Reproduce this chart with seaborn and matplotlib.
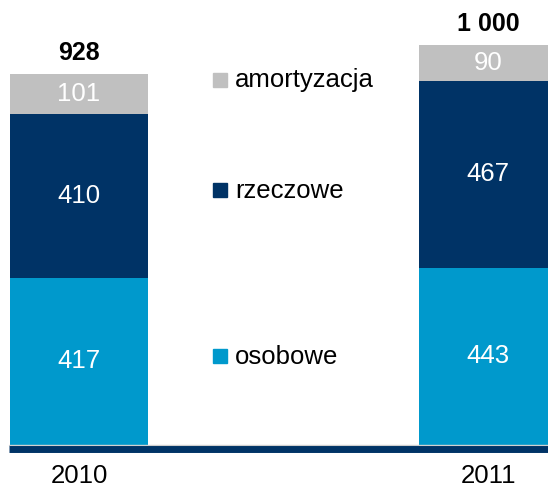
import pandas as pd
import seaborn as sns
import matplotlib.pyplot as plt
from matplotlib.lines import Line2D

# Data
years = ['2010', '2011']
osobowe = [417, 443]
rzeczowe = [410, 467]
amortyzacja = [101, 90]
totals_labels = ['928', '1 000']

series_names = ['amortyzacja', 'rzeczowe', 'osobowe']
colors = {'osobowe': '#0099CC', 'rzeczowe': '#003366', 'amortyzacja': '#C0C0C0'}

df = pd.DataFrame({'rok': years, 'osobowe': osobowe,
                   'rzeczowe': rzeczowe, 'amortyzacja': amortyzacja})
df['lvl1'] = df['osobowe']
df['lvl2'] = df['osobowe'] + df['rzeczowe']
df['lvl3'] = df['lvl2'] + df['amortyzacja']

sns.set_style('white')
plt.rcParams['font.family'] = ['Liberation Sans', 'DejaVu Sans']

W, H = 548, 491
fig = plt.figure(figsize=(W / 100, H / 100), dpi=100)
base_px = 444.5
ax = fig.add_axes([0, (H - base_px) / H, 1, base_px / H])

px_per_unit = 0.3995
bar_w = 138 / 409

# stacked bars drawn as overlapping cumulative totals
sns.barplot(data=df, x='rok', y='lvl3', color=colors['amortyzacja'], width=bar_w,
            saturation=1, linewidth=0, ax=ax)
sns.barplot(data=df, x='rok', y='lvl2', color=colors['rzeczowe'], width=bar_w,
            saturation=1, linewidth=0, ax=ax)
sns.barplot(data=df, x='rok', y='lvl1', color=colors['osobowe'], width=bar_w,
            saturation=1, linewidth=0, ax=ax)

ax.set_xlim(-79 / 409, (W - 79) / 409)
ax.set_ylim(0, base_px / px_per_unit)
ax.set_xlabel('')
ax.set_ylabel('')
ax.set_yticks([])
ax.tick_params(axis='x', length=0, pad=14, labelsize=18.5, labelcolor='black')
for s in ax.spines.values():
    s.set_visible(False)

# segment labels
for i in range(len(years)):
    ax.text(i, df['lvl1'][i] / 2, str(osobowe[i]), ha='center', va='center',
            color='white', fontsize=18.5)
    ax.text(i, df['lvl1'][i] + rzeczowe[i] / 2, str(rzeczowe[i]), ha='center',
            va='center', color='white', fontsize=18.5)
    ax.text(i, df['lvl2'][i] + amortyzacja[i] / 2, str(amortyzacja[i]), ha='center',
            va='center', color='white', fontsize=18.5)
    ax.text(i, df['lvl3'][i] + 53, totals_labels[i], ha='center', va='center',
            fontsize=18, fontweight='bold', color='black')

# baseline
ax.add_line(Line2D([9 / W, 1], [-0.5 / base_px, -0.5 / base_px], transform=ax.transAxes,
                   color='#D0D0D0', linewidth=1, clip_on=False))
ax.add_line(Line2D([9 / W, 1], [-4.7 / base_px, -4.7 / base_px], transform=ax.transAxes,
                   color='#003366', linewidth=5, solid_capstyle='butt', clip_on=False))

# legend placed between the bars
legend_pos = {'amortyzacja': 87.5, 'rzeczowe': 198, 'osobowe': 363.5}
for name in series_names:
    yb = legend_pos[name]
    fig.add_artist(Line2D([219.5 / W], [1 - (yb - 8) / H], marker='s', markersize=10.5,
                          color=colors[name], linestyle='none'))
    fig.text(235 / W, 1 - yb / H, name, ha='left', va='baseline', fontsize=18.5, color='black')

fig.savefig('out.png', dpi=100)
